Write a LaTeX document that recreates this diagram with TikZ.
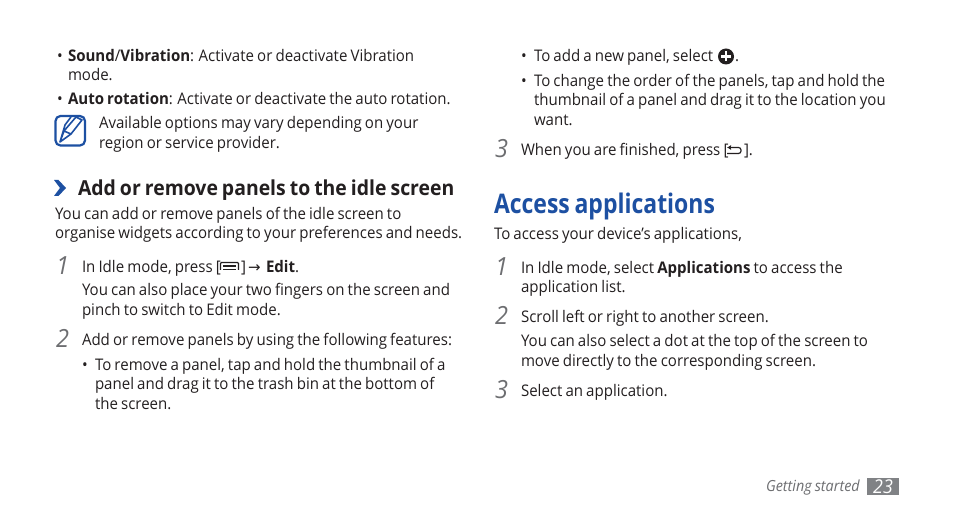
\documentclass[tikz,border=0pt]{standalone}
\usepackage{fontspec}
\usetikzlibrary{arrows.meta}
\setmainfont[FakeStretch=0.94,WordSpace=0.8]{Open Sans}
\newfontfamily\symfont{DejaVu Sans}
\usepackage{xcolor}
\definecolor{inktext}{HTML}{231F20}
\definecolor{brandblue}{HTML}{1D50A2}
\definecolor{numgrey}{HTML}{6D6E71}
\definecolor{pagebox}{HTML}{808285}
\newcount\linecount
\tikzset{
  textline/.style={anchor=base west,inner sep=0pt,outer sep=0pt,yshift=-0.7pt,text=inktext,font=\fontsize{16}{18}\selectfont},
  headline/.style={textline,font=\fontsize{20.65}{24}\selectfont\bfseries},
  titleline/.style={textline,text=brandblue,font=\fontsize{27}{30}\selectfont\bfseries},
  stepnum/.style={anchor=base west,inner sep=0pt,text=numgrey,font=\fontsize{25}{28}\selectfont\itshape},
  footline/.style={textline,text=numgrey,font=\fontsize{15.3}{18}\selectfont\itshape},
  iconline/.style={draw=inktext,line width=1.2pt},
}
\newcommand{\tl}[3]{\global\advance\linecount by 1 \node[textline] (line\the\linecount) at (#1,#2) {#3};}
\newcommand{\bul}[2]{\global\advance\linecount by 1 \node[textline] (line\the\linecount) at (#1,#2) {\textbullet};}
\newcommand{\stepn}[3]{\global\advance\linecount by 1 \node[stepnum] (line\the\linecount) at (#1,#2) {#3};}
\begin{document}
\begin{tikzpicture}[x=1pt,y=-1pt]
\useasboundingbox (0,0) rectangle (954,518);
\fill[white] (0,0) rectangle (954,518);
% left column
\bul{57}{61}
\tl{68}{61}{\textbf{Sound}/\textbf{Vibration}: Activate or deactivate Vibration}
\tl{68}{80}{mode.}
\bul{57}{104}
\tl{68}{104}{\textbf{Auto rotation}: Activate or deactivate the auto rotation.}
\tl{99}{128}{Available options may vary depending on your}
\tl{99}{148}{region or service provider.}
% note icon
\draw[brandblue,line width=2.2pt,rounded corners=5pt] (55.5,116) rectangle (85,145.5);
\draw[brandblue,line width=1.6pt,line join=round] (60,142) -- (64,131) -- (76,117) -- (82,120) -- (71,134) -- cycle
  (64,131) -- (71,134) (60,142) -- (65,125) -- (71,117);
% heading
\fill[brandblue] (54,180) -- (58.5,180) -- (66,188) -- (58.5,196) -- (54,196) -- (60,188) -- cycle;
\node[headline] (head1) at (78,195) {Add or remove panels to the idle screen};
\tl{55}{219}{You can add or remove panels of the idle screen to}
\tl{55}{238}{organise widgets according to your preferences and needs.}
\stepn{56}{275}{1}
\tl{82}{272}{In Idle mode, press [}
\tl{241}{272}{]}
\node[textline,font=\fontsize{15}{18}\selectfont\symfont] (arrowsym) at (248,272) {→};
\tl{266}{272}{\textbf{Edit}.}
\draw[iconline,rounded corners=1pt] (220.5,270) -- (220.5,262.5) -- (238.5,262.5) -- (238.5,270);
\draw[iconline] (223,266) -- (236,266) (223,269.5) -- (236,269.5);
\tl{82}{295}{You can also place your two fingers on the screen and}
\tl{82}{315}{pinch to switch to Edit mode.}
\stepn{56}{348}{2}
\tl{82}{345}{Add or remove panels by using the following features:}
\bul{82}{370}
\tl{95}{370}{To remove a panel, tap and hold the thumbnail of a}
\tl{95}{389}{panel and drag it to the trash bin at the bottom of}
\tl{95}{409}{the screen.}
% right column
\bul{521}{61}
\tl{534}{61}{To add a new panel, select}
\fill[inktext] (726,56.5) circle (8pt);
\draw[white,line width=2.4pt] (721,56.5) -- (731,56.5) (726,51.5) -- (726,61.5);
\tl{735}{61}{.}
\bul{521}{86}
\tl{534}{86}{To change the order of the panels, tap and hold the}
\tl{534}{105}{thumbnail of a panel and drag it to the location you}
\tl{534}{125}{want.}
\stepn{495}{158}{3}
\tl{521}{155}{When you are finished, press [}
\draw[iconline,-{Latex[length=4pt,width=5pt]}] (736,147.5) -- (727,147.5);
\draw[iconline,rounded corners=2.5pt] (732,147.5) -- (741,147.5) -- (741,153.5) -- (727,153.5);
\tl{744}{155}{].}
\node[titleline] (title) at (494,213) {\scalebox{0.905}[1]{Access applications}};
\tl{494}{239}{To access your device’s applications,}
\stepn{495}{276}{1}
\tl{521}{273}{In Idle mode, select \textbf{Applications} to access the}
\tl{521}{292}{application list.}
\stepn{495}{325}{2}
\tl{521}{322}{Scroll left or right to another screen.}
\tl{521}{346}{You can also select a dot at the top of the screen to}
\tl{521}{366}{move directly to the corresponding screen.}
\stepn{495}{399}{3}
\tl{521}{396}{Select an application.}
% footer
\node[footline] (foot) at (766,491) {Getting started};
\fill[pagebox] (867,478) rectangle (899,495);
\node[footline,anchor=base,text=white,font=\fontsize{19}{20}\selectfont\itshape] (pagenum) at (883,493) {23};
\end{tikzpicture}
\end{document}
